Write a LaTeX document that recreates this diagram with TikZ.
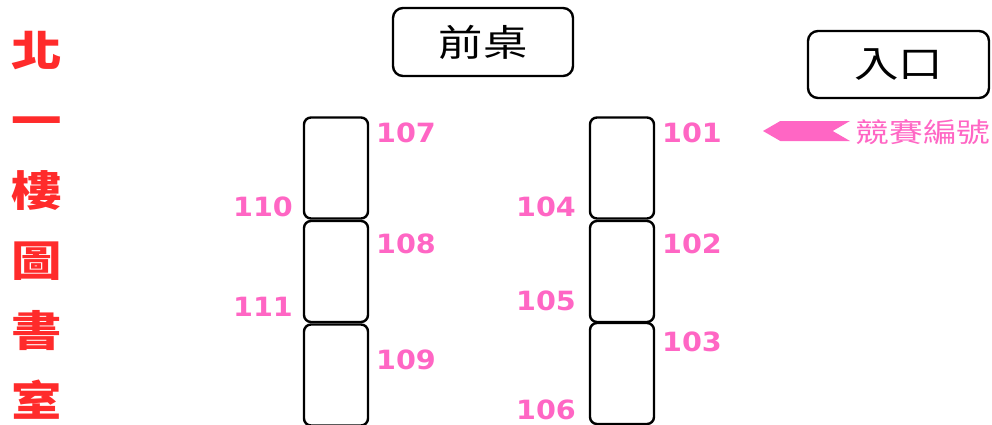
\documentclass[tikz,border=0pt]{standalone}
\usepackage{fontspec}
\newfontfamily\cjk[FakeStretch=1.2]{Noto Sans CJK TC}
\newfontfamily\cjkwide[FakeStretch=1.25]{Noto Sans CJK TC}
\newfontfamily\numfont[FakeStretch=1.08]{DejaVu Sans}
\usetikzlibrary{shapes.symbols}

\definecolor{numpink}{HTML}{FF66C4}
\definecolor{titlered}{HTML}{FF2B2B}

\tikzset{
  desk/.style={draw, line width=2.4pt, rounded corners=10pt, minimum width=180pt, minimum height=68pt, font=\cjk\fontsize{37}{37}\selectfont},
  tablebox/.style={draw, line width=2.4pt, rounded corners=7pt, minimum width=64pt, minimum height=101pt},
  seatnum/.style={text=numpink, inner sep=0pt, font=\numfont\bfseries\fontsize{26.5}{26.5}\selectfont},
}

\begin{document}
\begin{tikzpicture}[x=1pt,y=-1pt]
\useasboundingbox (0,0) rectangle (992,425);
\clip (0,0) rectangle (992,425);

\node (title) at (37,225) [text=titlered, align=center, inner sep=0pt, font=\cjk\bfseries\fontsize{42}{70}\selectfont] {北\\一\\樓\\圖\\書\\室};

\node (desk) at (483,42) [desk] {前桌};
\node (entry) at (898.5,64.5) [desk, minimum width=181pt, minimum height=67pt] {入口};

% tables
\node (L1) at (336,168) [tablebox] {};
\node (L2) at (336,271.5) [tablebox] {};
\node (L3) at (336,375) [tablebox] {};
\node (R1) at (622,168) [tablebox] {};
\node (R2) at (622,271.5) [tablebox] {};
\node (R3) at (622,373.5) [tablebox] {};

% seat numbers
\node (n107) at (406,133) [seatnum] {107};
\node (n110) at (263,207) [seatnum] {110};
\node (n108) at (406,244) [seatnum] {108};
\node (n111) at (263,307) [seatnum] {111};
\node (n109) at (406,360) [seatnum] {109};
\node (n101) at (692,133) [seatnum] {101};
\node (n104) at (546,207) [seatnum] {104};
\node (n102) at (692,244) [seatnum] {102};
\node (n105) at (546,301) [seatnum] {105};
\node (n103) at (692,342) [seatnum] {103};
\node (n106) at (546,410) [seatnum] {106};

\node (pointer) at (806.5,131) [signal, signal to=west, signal from=east, signal pointer angle=60, fill=numpink, minimum width=87pt, minimum height=20pt, inner sep=0pt] {};
\node (pointerlabel) at (923,132) [text=numpink, inner sep=0pt, font=\cjkwide\fontsize{27}{27}\selectfont] {競賽編號};
\end{tikzpicture}
\end{document}
